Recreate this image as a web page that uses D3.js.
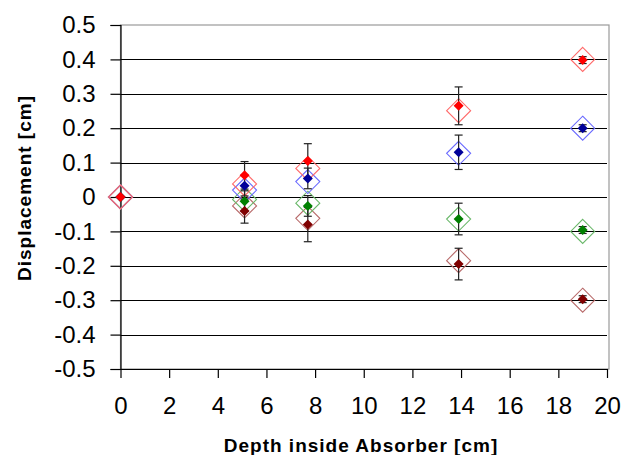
<!DOCTYPE html>
<html>
<head>
<meta charset="utf-8">
<script src="https://cdn.jsdelivr.net/npm/d3@7"></script>
<style>
  body { margin: 0; background: #fff; }
  svg { display: block; font-family: 'Liberation Sans', Arial, sans-serif; }
</style>
</head>
<body>
<div id="cnt"></div>
<script>
// depth positions (cm)
const depth = [0, 5.1, 7.7, 13.9, 19]

// measured displacement, its error, and simulated displacement per series
const redMeas = [0, 0.063, 0.105, 0.265, 0.398]
const redErr = [0, 0.04, 0.05, 0.055, 0.01]
const redSim = [0, 0.038, 0.083, 0.251, 0.4]

const blueMeas = [0, 0.033, 0.054, 0.13, 0.2]
const blueErr = [0, 0.03, 0.03, 0.05, 0.01]
const blueSim = [0, 0.02, 0.045, 0.127, 0.2]

const greenMeas = [0, -0.012, -0.026, -0.064, -0.096]
const greenErr = [0, 0.03, 0.03, 0.046, 0.01]
const greenSim = [0, -0.007, -0.018, -0.064, -0.1]

const maroonMeas = [0, -0.041, -0.08, -0.195, -0.297]
const maroonErr = [0, 0.035, 0.05, 0.046, 0.01]
const maroonSim = [0, -0.026, -0.062, -0.185, -0.3]

const xTicks = [0, 2, 4, 6, 8, 10, 12, 14, 16, 18, 20]
const yTicks = [0.5, 0.4, 0.3, 0.2, 0.1, 0, -0.1, -0.2, -0.3, -0.4, -0.5]

const series = [
    {meas: maroonMeas, err: maroonErr, sim: maroonSim, fill: '#800000', ring: '#b86a6a'},
    {meas: greenMeas, err: greenErr, sim: greenSim, fill: '#008000', ring: '#6ab86a'},
    {meas: blueMeas, err: blueErr, sim: blueSim, fill: '#000099', ring: '#6a6aff'},
    {meas: redMeas, err: redErr, sim: redSim, fill: '#ff0000', ring: '#ff6a6a'},
]

const width = 626
const height = 455
const plotLeft = 120.5
const plotRight = 607
const plotTop = 25
const plotBottom = 369

const x = d3.scaleLinear().domain([0, 20]).range([plotLeft, plotRight])
const y = d3.scaleLinear().domain([-0.5, 0.5]).range([plotBottom, plotTop])

// Excel style labels: plain hyphen for negatives
const yFormat = d => d === 0 ? '0' : d.toFixed(1)

const svg = d3.select('#cnt')
    .append('svg')
    .attr('width', width)
    .attr('height', height)

// plot area frame (gray top / right)
svg.append('rect')
    .attr('x', plotLeft)
    .attr('y', plotTop)
    .attr('width', plotRight + 2 - plotLeft)
    .attr('height', plotBottom - plotTop)
    .attr('fill', 'none')
    .attr('stroke', '#9a9a9a')
    .attr('stroke-width', 1.2)

// horizontal gridlines
svg.append('g')
    .selectAll('line')
    .data(yTicks.filter(t => t !== 0.5 && t !== -0.5))
    .join('line')
    .attr('x1', plotLeft)
    .attr('x2', plotRight)
    .attr('y1', d => Math.round(y(d)) + 0.5)
    .attr('y2', d => Math.round(y(d)) + 0.5)
    .attr('stroke', '#000')
    .attr('stroke-width', 1.2)

// y axis
const yAxis = svg.append('g')
    .attr('transform', `translate(${plotLeft},0)`)
    .call(d3.axisLeft(y).tickValues(yTicks).tickSize(10).tickPadding(15)
        .tickFormat(yFormat))
yAxis.select('.domain').attr('stroke', '#000').attr('stroke-width', 1.2)
yAxis.selectAll('.tick line').attr('stroke', '#000').attr('stroke-width', 1.2)
yAxis.selectAll('.tick text')
    .attr('fill', '#000')
    .style('font-size', '24px')

// x axis
const xAxis = svg.append('g')
    .attr('transform', `translate(0,${plotBottom})`)
    .call(d3.axisBottom(x).tickValues(xTicks).tickSize(9).tickPadding(19)
        .tickSizeOuter(0))
xAxis.select('.domain').attr('stroke', '#000').attr('stroke-width', 1.2)
xAxis.selectAll('.tick line').attr('stroke', '#000').attr('stroke-width', 1.2)
xAxis.selectAll('.tick text')
    .attr('fill', '#000')
    .style('font-size', '24px')

// axis titles
svg.append('text')
    .attr('x', 361)
    .attr('y', 452)
    .attr('text-anchor', 'middle')
    .style('font-size', '19px')
    .style('font-weight', 'bold')
    .style('letter-spacing', '1px')
    .text('Depth inside Absorber [cm]')

svg.append('text')
    .attr('transform', 'translate(31,188) rotate(-90)')
    .attr('text-anchor', 'middle')
    .style('font-size', '19px')
    .style('font-weight', 'bold')
    .style('letter-spacing', '1px')
    .text('Displacement [cm]')

const diamond = r => `M0,${-r}L${r},0L0,${r}L${-r},0Z`

// simulated values: hollow diamonds
for (const s of series) {
    svg.append('g')
        .selectAll('path')
        .data(depth.map((d, i) => [d, s.sim[i]]))
        .join('path')
        .attr('transform', d => `translate(${x(d[0])},${y(d[1])})`)
        .attr('d', diamond(12))
        .attr('fill', 'none')
        .attr('stroke', s.ring)
        .attr('stroke-width', 1.1)
}

// error bars
for (const s of series) {
    const pts = depth.map((d, i) => [d, s.meas[i], s.err[i]]).filter(d => d[2] > 0)
    const g = svg.append('g').attr('stroke', '#222').attr('stroke-width', 1.2)
    g.selectAll('.bar')
        .data(pts)
        .join('line')
        .attr('class', 'bar')
        .attr('x1', d => x(d[0]))
        .attr('x2', d => x(d[0]))
        .attr('y1', d => y(d[1] + d[2]))
        .attr('y2', d => y(d[1] - d[2]))
    for (const sign of [1, -1]) {
        g.selectAll(`.cap${sign > 0 ? 'up' : 'down'}`)
            .data(pts)
            .join('line')
            .attr('class', `cap${sign > 0 ? 'up' : 'down'}`)
            .attr('x1', d => x(d[0]) - 4)
            .attr('x2', d => x(d[0]) + 4)
            .attr('y1', d => y(d[1] + sign * d[2]))
            .attr('y2', d => y(d[1] + sign * d[2]))
    }
}

// measured values: filled diamonds
for (const s of series) {
    svg.append('g')
        .selectAll('path')
        .data(depth.map((d, i) => [d, s.meas[i]]))
        .join('path')
        .attr('transform', d => `translate(${x(d[0])},${y(d[1])})`)
        .attr('d', diamond(5))
        .attr('fill', s.fill)
}
</script>
</body>
</html>
